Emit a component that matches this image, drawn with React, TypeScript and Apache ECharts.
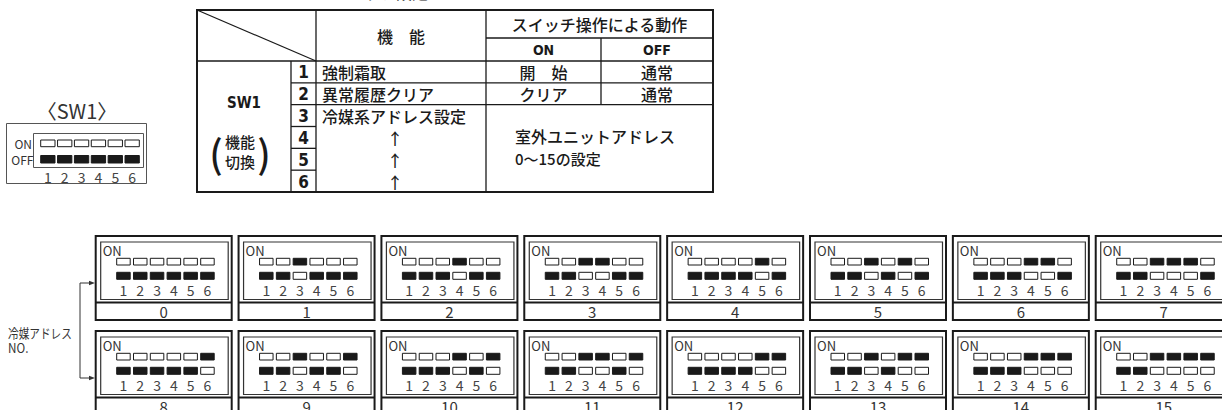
import React, { useEffect, useRef } from "react";
import * as echarts from "echarts";

// ---------- data ----------
const addressLabels = ["0", "1", "2", "3", "4", "5", "6", "7", "8", "9", "10", "11", "12", "13", "14", "15"];
// switch 1..6 state for each address ("1" = ON)
const addressSwitchOn = [
  "000000", "001000", "000100", "001100", "000010", "001010", "000110", "001110",
  "000001", "001001", "000101", "001101", "000011", "001011", "000111", "001111",
];
const switchNumbers = ["1", "2", "3", "4", "5", "6"];
const sw1DefaultOn = "000000";
const functionNames = ["強制霜取", "異常履歴クリア", "冷媒系アドレス設定", "↑", "↑", "↑"];
const onActions = ["開　始", "クリア"];
const offActions = ["通常", "通常"];
const addressNote = ["室外ユニットアドレス", "0〜15の設定"];
const headerFunction = "機　能";
const headerAction = "スイッチ操作による動作";
const headerOn = "ON";
const headerOff = "OFF";
const swName = "SW1";
const swPurpose = ["機能", "切換"];
const swTitle = "〈SW1〉";
const refLabel = ["冷媒アドレス", "NO."];
const topTitle = "ー　スイッチ設定";

const JP = "'Noto Sans CJK JP', 'Noto Sans', sans-serif";
const COND = "'Liberation Sans Narrow', 'DejaVu Sans Condensed', 'Noto Sans CJK JP', sans-serif";
const INK = "#1a1a1a";

function txt(x: number, y: number, text: string, o: any = {}) {
  const align = o.align || "center";
  const va = o.va || "middle";
  return {
    type: "text",
    x,
    y,
    scaleX: o.scaleX || 1,
    silent: true,
    style: {
      text,
      fill: o.fill || INK,
      fontSize: o.size || 14,
      fontFamily: o.family || JP,
      fontWeight: o.weight || "normal",
      align,
      verticalAlign: va,
      textAlign: align,
      textVerticalAlign: va,
    },
  };
}
function rect(x: number, y: number, w: number, h: number, fill: string, stroke: string, lw = 1) {
  return { type: "rect", silent: true, shape: { x, y, width: w, height: h }, style: { fill, stroke, lineWidth: lw } };
}
function line(x1: number, y1: number, x2: number, y2: number, lw = 1.2, stroke = INK) {
  return { type: "line", silent: true, shape: { x1, y1, x2, y2 }, style: { stroke, lineWidth: lw } };
}

function buildElements() {
  const els: any[] = [];

  // ---- top cut title ----
  els.push(txt(300, 0, topTitle, { align: "left", va: "bottom", size: 16, weight: 500 }));

  // ---- SW1 illustration ----
  els.push(txt(77, 110, swTitle, { size: 20, fill: "#333" }));
  els.push(rect(6.5, 123.5, 140, 60, "#fff", "#555", 1));
  els.push(rect(33.5, 133.5, 110, 34, "#fff", "#555", 1));
  els.push(txt(32, 143.5, "ON", { align: "right", size: 12, fill: "#333" }));
  els.push(txt(33.5, 159.5, "OFF", { align: "right", size: 12, fill: "#333" }));
  for (let i = 0; i < 6; i++) {
    const x = 40.7 + i * 16.86;
    const on = sw1DefaultOn[i] === "1";
    els.push(rect(x, 140, 14.3, 6.7, on ? INK : "#fff", INK, 1));
    els.push(rect(x, 155.5, 14.3, 7.5, on ? "#fff" : INK, INK, 1));
    els.push(txt(x + 7.2, 176.5, switchNumbers[i], { size: 14, fill: "#444" }));
  }

  // ---- table ----
  const L = 197, R = 713, T = 10, HM = 38, HB = 61, B = 192;
  const c1 = 291, c2 = 316, c3 = 486, c4 = 601;
  const rh = (B - HB) / 6;
  const ry = (i: number) => HB + rh * i;
  els.push(rect(L, T, R - L, B - T, "#fff", INK, 2));
  els.push(line(L, T, c2, HB, 1.2));
  els.push(line(c1, HB, c1, B, 1.3));
  els.push(line(c2, T, c2, B, 1.3));
  els.push(line(c3, T, c3, B, 1.3));
  els.push(line(c4, HM, c4, ry(2), 1.3));
  els.push(line(c3, HM, R, HM, 1.3));
  els.push(line(L, HB, R, HB, 1.5));
  els.push(line(c1, ry(1), R, ry(1), 1.3));
  els.push(line(c1, ry(2), R, ry(2), 1.3));
  for (let i = 3; i < 6; i++) els.push(line(c1, ry(i), c2, ry(i), 1.3));

  const tw = 500;
  els.push(txt((c2 + c3) / 2, 36, headerFunction, { size: 16, weight: tw }));
  els.push(txt((c3 + R) / 2, 24, headerAction, { size: 16, weight: tw }));
  els.push(txt((c3 + c4) / 2, 50, headerOn, { size: 14, weight: "bold", family: COND }));
  els.push(txt((c4 + R) / 2, 50, headerOff, { size: 14, weight: "bold", family: COND }));
  for (let i = 0; i < 6; i++) {
    const cy = ry(i) + rh / 2;
    els.push(txt((c1 + c2) / 2, cy + 0.5, switchNumbers[i], { size: 17, weight: "bold", family: COND }));
    const isArrow = functionNames[i] === "↑";
    els.push(
      txt(isArrow ? 395 : 322, cy + 0.5, functionNames[i], {
        align: isArrow ? "center" : "left",
        size: 16,
        weight: tw,
      })
    );
  }
  for (let i = 0; i < 2; i++) {
    const cy = ry(i) + rh / 2 + 0.5;
    els.push(txt((c3 + c4) / 2, cy, onActions[i], { size: 16, weight: tw }));
    els.push(txt((c4 + R) / 2, cy, offActions[i], { size: 16, weight: tw }));
  }
  els.push(txt(515, 135.5, addressNote[0], { align: "left", size: 16, weight: tw }));
  els.push(txt(515, 158, addressNote[1], { align: "left", size: 15, weight: tw }));
  els.push(txt(244, 103, swName, { size: 15, weight: "bold", family: COND }));
  els.push(txt(240, 141, swPurpose[0], { size: 15, weight: tw }));
  els.push(txt(240, 161, swPurpose[1], { size: 15, weight: tw }));
  els.push(txt(216, 151, "(", { size: 38, weight: tw }));
  els.push(txt(264, 151, ")", { size: 38, weight: tw }));

  // ---- address boxes ----
  const bx0 = 95.7, pitch = 142.86;
  const rowTops = [236, 331];
  for (let a = 0; a < addressLabels.length; a++) {
    const col = a % 8;
    const row = Math.floor(a / 8);
    const x0 = bx0 + col * pitch;
    const y0 = rowTops[row];
    els.push(rect(x0, y0, 136, 84, "#fff", INK, 2));
    els.push(rect(x0 + 5, y0 + 6, 127.5, 57.5, "#fff", "#333", 1.2));
    els.push(line(x0, y0 + 66.5, x0 + 136, y0 + 66.5, 2));
    els.push(txt(x0 + 7, y0 + 14.5, "ON", { align: "left", size: 13, fill: "#333" }));
    for (let i = 0; i < 6; i++) {
      const sx = x0 + 21 + i * 16.8;
      const on = addressSwitchOn[a][i] === "1";
      els.push(rect(sx, y0 + 22.3, 13.5, 6.7, on ? INK : "#fff", INK, 1));
      els.push(rect(sx, y0 + 36.3, 13.5, 7, on ? "#fff" : INK, INK, 1));
      els.push(txt(sx + 6.75, y0 + 54, switchNumbers[i], { size: 14, fill: "#444" }));
    }
    els.push(txt(x0 + 68, y0 + 75.5, addressLabels[a], { size: 15, fill: "#333" }));
  }

  // ---- bracket arrow ----
  const ay1 = rowTops[0] + 47, ay2 = rowTops[1] + 47;
  els.push(line(80, ay1, 80, ay2, 1, "#333"));
  els.push(line(80, ay1, 91, ay1, 1, "#333"));
  els.push(line(80, ay2, 91, ay2, 1, "#333"));
  els.push({ type: "polygon", silent: true, shape: { points: [[95, ay1], [89, ay1 - 2.2], [89, ay1 + 2.2]] }, style: { fill: "#333" } });
  els.push({ type: "polygon", silent: true, shape: { points: [[95, ay2], [89, ay2 - 2.2], [89, ay2 + 2.2]] }, style: { fill: "#333" } });
  els.push(txt(8, 332, refLabel[0], { align: "left", size: 13, fill: "#333", scaleX: 0.82 }));
  els.push(txt(8, 348, refLabel[1], { align: "left", size: 13, fill: "#333", scaleX: 0.9 }));

  return els;
}

export default function App() {
  const ref = useRef<HTMLDivElement>(null);
  useEffect(() => {
    document.body.style.margin = "0";
    const chart = echarts.init(ref.current!, null, { renderer: "svg" });
    chart.setOption({
      animation: false,
      backgroundColor: "#ffffff",
      graphic: { elements: buildElements() },
    });
    return () => chart.dispose();
  }, []);
  return <div ref={ref} style={{ width: 1222, height: 410 }} />;
}
